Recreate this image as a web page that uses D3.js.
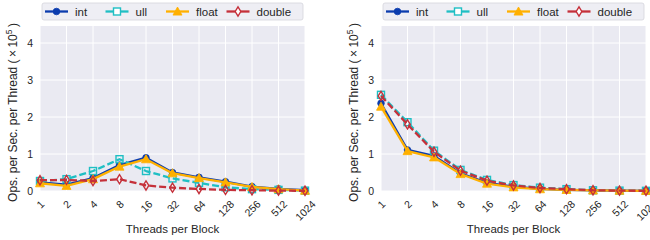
<!DOCTYPE html>
<html><head><meta charset="utf-8">
<script src="https://cdn.jsdelivr.net/npm/d3@7"></script>
<style>body{margin:0;background:#fff}svg{display:block;font-family:"Liberation Sans",Arial,sans-serif}</style>
</head><body>
<svg id="c" width="650" height="240"></svg>
<script>
const categories = ["1","2","4","8","16","32","64","128","256","512","1024"];
const seriesNames = ["int","ull","float","double"];
const yTicks = [0,1,2,3,4];
// left panel values (x10^5)
const leftInt    = [0.23,0.17,0.35,0.70,0.90,0.50,0.37,0.25,0.12,0.06,0.02];
const leftUll    = [0.27,0.32,0.54,0.86,0.54,0.34,0.22,0.10,0.05,0.03,0.01];
const leftFloat  = [0.21,0.14,0.32,0.66,0.86,0.48,0.35,0.235,0.11,0.05,0.01];
const leftDouble = [0.29,0.30,0.27,0.32,0.15,0.09,0.055,0.03,0.02,0.01,0.005];
// right panel values (x10^5)
const rightInt    = [2.37,1.11,0.95,0.48,0.22,0.12,0.06,0.03,0.015,0.01,0.005];
const rightUll    = [2.60,1.86,1.09,0.57,0.30,0.16,0.09,0.05,0.02,0.01,0.005];
const rightFloat  = [2.28,1.08,0.91,0.46,0.20,0.10,0.05,0.03,0.015,0.01,0.005];
const rightDouble = [2.57,1.80,1.06,0.55,0.28,0.15,0.08,0.05,0.02,0.01,0.005];

const styles = {
  int:   {color:"#0b3cae", dash:null,  marker:"circle"},
  ull:   {color:"#1fbfc4", dash:"7,3", marker:"square"},
  float: {color:"#ffb000", dash:null,  marker:"triangle"},
  double:{color:"#c5303a", dash:"7,3", marker:"diamond"}
};

const svg = d3.select("#c");

function marker(g, type, x, y, color, fillOpen){
  if(type==="circle"){
    return g.append("circle").attr("cx",x).attr("cy",y).attr("r",3.3).attr("fill",color).attr("stroke",color).attr("stroke-width",0.8);
  } else if(type==="square"){
    return g.append("rect").attr("x",x-3.5).attr("y",y-3.5).attr("width",7).attr("height",7).attr("fill",fillOpen||"none").attr("stroke",color).attr("stroke-width",1.4);
  } else if(type==="triangle"){
    const s=4.5;
    return g.append("path").attr("d",`M${x},${y-s}L${x+s},${y+s*0.8}L${x-s},${y+s*0.8}Z`).attr("fill",color).attr("stroke",color).attr("stroke-width",0.8);
  } else {
    return g.append("path").attr("d",`M${x},${y-4.6}L${x+2.8},${y}L${x},${y+4.6}L${x-2.8},${y}Z`).attr("fill",fillOpen||"none").attr("stroke",color).attr("stroke-width",1.4);
  }
}

function panel(left, right, data){
  const top=26, bottom=191;
  const x = d3.scalePoint().domain(categories).range([left,right]);
  const y = d3.scaleLinear().domain([0,4.46]).range([bottom,top]);
  const g = svg.append("g");
  g.append("rect").attr("x",left).attr("y",top).attr("width",right-left).attr("height",bottom-top).attr("fill","#eaeaf2");
  // grid
  g.selectAll(".gx").data(categories).enter().append("line")
    .attr("x1",d=>x(d)).attr("x2",d=>x(d)).attr("y1",top).attr("y2",bottom)
    .attr("stroke","#fff").attr("stroke-width",1);
  g.selectAll(".gy").data(yTicks).enter().append("line")
    .attr("x1",left).attr("x2",right).attr("y1",d=>y(d)).attr("y2",d=>y(d))
    .attr("stroke","#fff").attr("stroke-width",1);
  // y tick labels
  const ya = d3.axisLeft(y).tickValues(yTicks).tickSize(0).tickPadding(7).tickFormat(d3.format("d"));
  const yg = g.append("g").attr("transform",`translate(${left},0)`).call(ya);
  yg.select(".domain").remove();
  yg.selectAll("text").attr("font-size",10.5).attr("fill","#262626").attr("font-family","Liberation Sans, Arial, sans-serif");
  // x tick labels (rotated, bbox centred on tick)
  const xa = d3.axisBottom(x).tickSize(0).tickPadding(0);
  const xg = g.append("g").attr("transform",`translate(0,${bottom})`).call(xa);
  xg.select(".domain").remove();
  xg.selectAll("text").attr("font-size",10.5).attr("fill","#262626").attr("font-family","Liberation Sans, Arial, sans-serif")
    .attr("text-anchor","middle").attr("dy","0.35em").attr("y",0).attr("x",0)
    .attr("transform",function(){
      const L = this.getComputedTextLength();
      const h = (L + 7.5) * Math.SQRT1_2 / 2;
      return `translate(0,${8.5 + h}) rotate(-45)`;
    });
  // labels
  g.append("text").attr("x",(left+right)/2).attr("y",233).attr("text-anchor","middle")
    .attr("font-size",11.5).attr("fill","#262626").text("Threads per Block");
  const yl = g.append("text").attr("transform",`translate(${left-23},${(top+bottom)/2+4}) rotate(-90)`)
    .attr("text-anchor","middle").attr("font-size",12).attr("fill","#262626");
  yl.append("tspan").text("Ops. per Sec. per Thread (\u2009\u00d7\u200910");
  yl.append("tspan").attr("dy",-5).attr("font-size",8.5).text("5");
  yl.append("tspan").attr("dy",5).text("\u2009)");
  // series
  const clipId = "clip"+left;
  svg.append("clipPath").attr("id",clipId).append("rect").attr("x",left-6).attr("y",top).attr("width",right-left+12).attr("height",bottom-top+6);
  const sg = g.append("g").attr("clip-path",`url(#${clipId})`);
  seriesNames.forEach((name,i)=>{
    const st = styles[name]; const vals = data[i];
    const line = d3.line().x((d,j)=>x(categories[j])).y(d=>y(d));
    sg.append("path").datum(vals).attr("d",line).attr("fill","none").attr("stroke",st.color)
      .attr("stroke-width",2.3).attr("stroke-dasharray",st.dash).attr("stroke-linejoin","round");
    vals.forEach((v,j)=>marker(sg, st.marker, x(categories[j]), y(v), st.color));
  });
  // legend
  const lg = g.append("g");
  lg.append("rect").attr("x",left+2).attr("y",3).attr("width",right-left-4).attr("height",17).attr("rx",2)
    .attr("fill","#eeeef4").attr("stroke","#d4d4dc").attr("stroke-width",0.8);
  const lx = d3.scalePoint().domain(seriesNames).range([left+5, left+5+3*60.5]);
  seriesNames.forEach(name=>{
    const st=styles[name]; const x0 = lx(name);
    lg.append("line").attr("x1",x0).attr("x2",x0+23).attr("y1",11.5).attr("y2",11.5)
      .attr("stroke",st.color).attr("stroke-width",2.3);
    marker(lg, st.marker, x0+11.5, 11.5, st.color, "#fff");
    lg.append("text").attr("x",x0+30).attr("y",15.5).attr("font-size",11.5).attr("fill","#262626").text(name);
  });
}

panel(40, 305, [leftInt,leftUll,leftFloat,leftDouble]);
panel(381, 646, [rightInt,rightUll,rightFloat,rightDouble]);
</script>
</body></html>
